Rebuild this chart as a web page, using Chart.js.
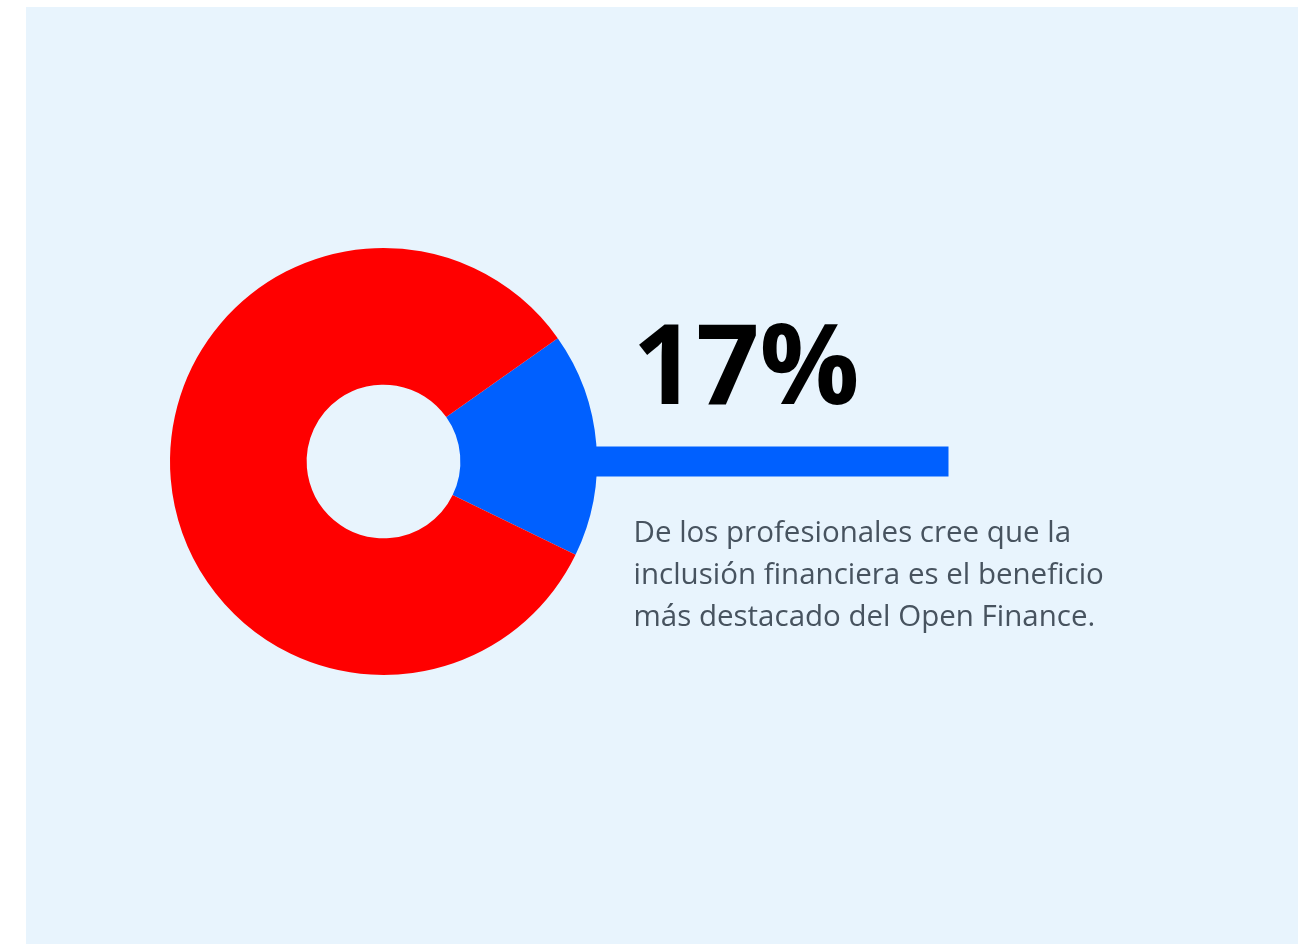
<!DOCTYPE html>
<html lang="es">
<head>
<meta charset="utf-8">
<title>Open Finance – inclusión financiera</title>
<script src="https://cdn.jsdelivr.net/npm/chart.js@4.4.1/dist/chart.umd.min.js"></script>
<style>
  html, body { margin: 0; padding: 0; background: #ffffff; }
  body { width: 1305px; height: 944px; position: relative; overflow: hidden; }
  #panel {
    position: absolute; left: 26px; top: 7px; width: 1272px; height: 937px;
    background: #e8f4fd;
  }
  #panel canvas { display: block; }
</style>
</head>
<body>
<div id="panel"><canvas id="chart" width="1272" height="937"></canvas></div>
<script>
// Survey result: share of professionals naming financial inclusion as the top benefit
const categories = ['Inclusión financiera', 'Otros beneficios'];
const shares = [17, 83];
const sliceColors = ['#0060ff', '#ff0000'];

const headline = shares[0] + '%';
const captionLines = [
  'De los profesionales cree que la',
  'inclusión financiera es el beneficio',
  'más destacado del Open Finance.'
];

// Draws the connector bar from the highlighted slice plus the headline and caption
const calloutPlugin = {
  id: 'callout',
  afterDatasetsDraw(chart) {
    const arc = chart.getDatasetMeta(0).data[0];
    if (!arc) return;
    const { x, y, outerRadius } = arc.getProps(['x', 'y', 'outerRadius'], true);
    const ctx = chart.ctx;
    ctx.save();

    // connector bar leaving the blue slice
    const barStart = x + outerRadius - 4;
    const barEnd = x + 565;
    ctx.fillStyle = sliceColors[0];
    ctx.fillRect(barStart, y - 15, barEnd - barStart, 30);

    const textLeft = x + 250;
    ctx.textBaseline = 'alphabetic';
    ctx.textAlign = 'left';

    ctx.fillStyle = '#000000';
    ctx.font = '700 111px "Open Sans", sans-serif';
    ctx.fillText(headline, textLeft - 1, y - 58);

    ctx.fillStyle = '#47535f';
    ctx.font = '400 29.5px "Open Sans", sans-serif';
    captionLines.forEach((line, i) => {
      ctx.fillText(line, textLeft, y + 80 + i * 42);
    });
    ctx.restore();
  }
};

new Chart(document.getElementById('chart'), {
  type: 'doughnut',
  data: {
    labels: categories,
    datasets: [{
      data: shares,
      backgroundColor: sliceColors,
      borderWidth: 0,
      hoverOffset: 0
    }]
  },
  options: {
    responsive: false,
    animation: false,
    cutout: '36%',
    rotation: 54.7,
    layout: { padding: { left: 144, right: 701, top: 241, bottom: 269 } },
    plugins: {
      legend: { display: false },
      tooltip: { enabled: false }
    },
    events: []
  },
  plugins: [calloutPlugin]
});
</script>
</body>
</html>
